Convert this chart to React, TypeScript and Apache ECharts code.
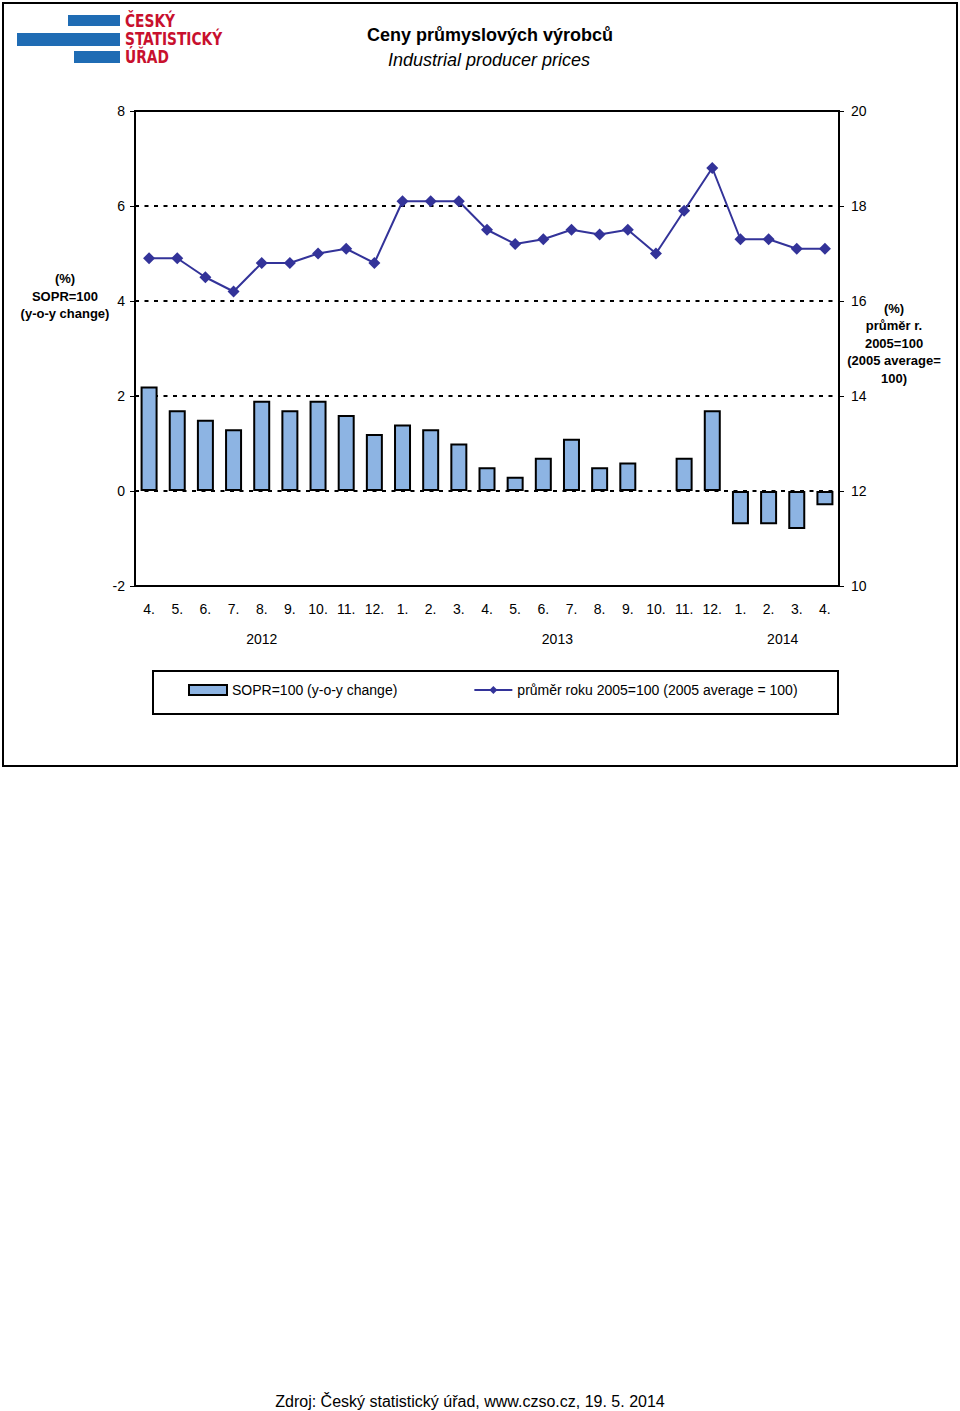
import React, { useEffect, useRef } from "react";
import * as echarts from "echarts";

const categories = ["4.", "5.", "6.", "7.", "8.", "9.", "10.", "11.", "12.", "1.", "2.", "3.", "4.", "5.", "6.", "7.", "8.", "9.", "10.", "11.", "12.", "1.", "2.", "3.", "4."];
const barValues: (number | null)[] = [2.2, 1.7, 1.5, 1.3, 1.9, 1.7, 1.9, 1.6, 1.2, 1.4, 1.3, 1.0, 0.5, 0.3, 0.7, 1.1, 0.5, 0.6, null, 0.7, 1.7, -0.7, -0.7, -0.8, -0.3];
const lineValues = [16.9, 16.9, 16.5, 16.2, 16.8, 16.8, 17.0, 17.1, 16.8, 18.1, 18.1, 18.1, 17.5, 17.2, 17.3, 17.5, 17.4, 17.5, 17.0, 17.9, 18.8, 17.3, 17.3, 17.1, 17.1];
const yearLabels = ["2012", "2013", "2014"];
const yearPositions = [4, 14.5, 22.5];
const barName = "SOPR=100 (y-o-y change)";
const lineName = "průměr roku 2005=100 (2005 average = 100)";

const FONT = "'Liberation Sans', Arial, sans-serif";

export default function App() {
  const ref = useRef<HTMLDivElement>(null);
  useEffect(() => {
    if (!ref.current) return;
    const chart = echarts.init(ref.current, undefined, { renderer: "svg" });
    const gridLeft = 135;
    const gridTop = 111;
    const gridW = 704;
    const gridH = 475;
    const catW = gridW / categories.length;

    const yearTexts = yearLabels.map((t, i) => ({
      type: "text",
      x: gridLeft + (yearPositions[i] + 0.5) * catW,
      y: 639,
      style: { text: t, fill: "#000", fontSize: 14, fontFamily: FONT, align: "center", verticalAlign: "middle" },
    }));

    const logoText = (t: string, y: number) => ({
      type: "text",
      x: 125,
      y,
      scaleX: 0.9,
      style: {
        text: t,
        fill: "#c8102e",
        fontSize: 17,
        fontWeight: "bold",
        fontFamily: "'DejaVu Sans Condensed', 'DejaVu Sans', sans-serif",
        verticalAlign: "middle",
      },
    });

    chart.setOption({
      animation: false,
      backgroundColor: "#fff",
      textStyle: { fontFamily: FONT },
      grid: {
        left: gridLeft,
        top: gridTop,
        width: gridW,
        height: gridH,
        show: true,
        borderColor: "#000",
        borderWidth: 2,
        backgroundColor: "transparent",
      },
      legend: {
        left: 188,
        top: 683,
        padding: 0,
        itemGap: 76,
        itemWidth: 38,
        itemHeight: 10,
        textStyle: { fontSize: 14, color: "#000", fontFamily: FONT },
        data: [
          { name: barName, icon: "rect" },
          { name: lineName },
        ],
      },
      xAxis: {
        type: "category",
        data: categories,
        axisLine: { show: true, onZero: false, lineStyle: { color: "#000", width: 2 } },
        axisTick: { show: false },
        axisLabel: { color: "#000", fontSize: 14, margin: 16, interval: 0 },
        splitLine: { show: false },
      },
      yAxis: [
        {
          type: "value",
          min: -2,
          max: 8,
          interval: 2,
          axisLine: { show: true, lineStyle: { color: "#000", width: 2 } },
          axisTick: { show: true, length: 5, lineStyle: { color: "#000" } },
          axisLabel: { color: "#000", fontSize: 14, margin: 10 },
          splitLine: { show: true, lineStyle: { color: "#000", width: 2, type: [4, 5.5] } },
        },
        {
          type: "value",
          min: 10,
          max: 20,
          interval: 2,
          position: "right",
          axisLine: { show: true, lineStyle: { color: "#000", width: 2 } },
          axisTick: { show: true, length: 5, lineStyle: { color: "#000" } },
          axisLabel: { color: "#000", fontSize: 14, margin: 12 },
          splitLine: { show: false },
        },
      ],
      series: [
        {
          name: barName,
          type: "bar",
          data: barValues,
          barWidth: 17,
          itemStyle: { color: "#8db4e3", borderColor: "#000", borderWidth: 2 },
          z: 2,
        },
        {
          name: lineName,
          type: "line",
          yAxisIndex: 1,
          data: lineValues,
          symbol: "diamond",
          symbolSize: 12,
          lineStyle: { color: "#333399", width: 2 },
          itemStyle: { color: "#333399" },
          z: 3,
        },
      ],
      graphic: [
        {
          type: "rect",
          shape: { x: 3, y: 3, width: 954, height: 763 },
          style: { fill: "none", stroke: "#000", lineWidth: 2 },
          silent: true,
        },
        {
          type: "rect",
          shape: { x: 153, y: 671, width: 685, height: 43 },
          style: { fill: "none", stroke: "#000", lineWidth: 2 },
          silent: true,
        },
        { type: "rect", shape: { x: 68, y: 15, width: 52, height: 11 }, style: { fill: "#1f6cb4" } },
        { type: "rect", shape: { x: 17, y: 33, width: 103, height: 13 }, style: { fill: "#1f6cb4" } },
        { type: "rect", shape: { x: 74, y: 51, width: 46, height: 12 }, style: { fill: "#1f6cb4" } },
        logoText("ČESKÝ", 21),
        logoText("STATISTICKÝ", 39),
        logoText("ÚŘAD", 57),
        {
          type: "text", x: 490, y: 35,
          style: { text: "Ceny průmyslových výrobců", fill: "#000", fontSize: 18, fontWeight: "bold", fontFamily: FONT, align: "center", verticalAlign: "middle" },
        },
        {
          type: "text", x: 489, y: 60,
          style: { text: "Industrial producer prices", fill: "#000", fontSize: 18, fontStyle: "italic", fontFamily: FONT, align: "center", verticalAlign: "middle" },
        },
        {
          type: "text", x: 65, y: 296,
          style: { text: "(%)\nSOPR=100\n(y-o-y change)", fill: "#000", fontSize: 13, fontWeight: "bold", fontFamily: FONT, lineHeight: 17.5, align: "center", verticalAlign: "middle" },
        },
        {
          type: "text", x: 894, y: 343,
          style: { text: "(%)\nprůměr r.\n2005=100\n(2005 average=\n100)", fill: "#000", fontSize: 13, fontWeight: "bold", fontFamily: FONT, lineHeight: 17.5, align: "center", verticalAlign: "middle" },
        },
        ...yearTexts,
        {
          type: "text", x: 470, y: 1401,
          style: { text: "Zdroj: Český statistický úřad, www.czso.cz, 19. 5. 2014", fill: "#000", fontSize: 16, fontFamily: FONT, align: "center", verticalAlign: "middle" },
        },
      ],
    });
    return () => chart.dispose();
  }, []);
  return <div ref={ref} style={{ position: "absolute", left: 0, top: 0, width: 960, height: 1411 }} />;
}
